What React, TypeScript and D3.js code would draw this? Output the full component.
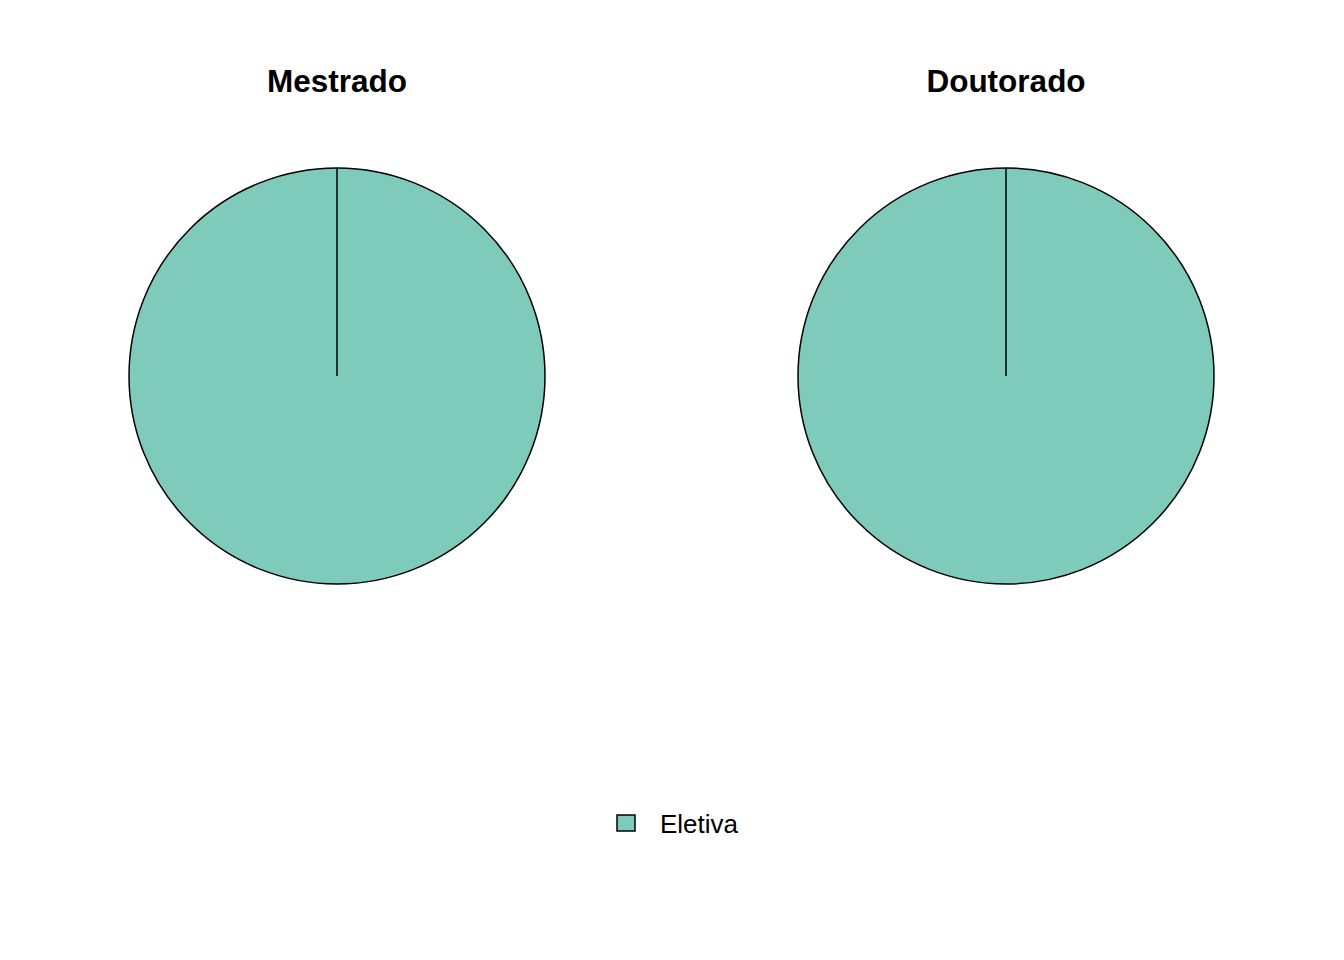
import React from "react";
import * as d3 from "d3";

const panels = ["Mestrado", "Doutorado"];
const categories = ["Eletiva"];
const valuesMestrado = [1];
const valuesDoutorado = [1];
const seriesValues = [valuesMestrado, valuesDoutorado];
const colors = ["#7FCBBB"];

export default function App() {
  const W = 1344, H = 960;
  const cx = d3.scaleOrdinal<string, number>().domain(panels).range([337, 1006]);
  const r = 208;
  const cy = 376;
  const pie = d3.pie<number>().sort(null).value((d) => d);
  const arc = d3.arc<d3.PieArcDatum<number>>().innerRadius(0).outerRadius(r);
  const color = d3.scaleOrdinal<string, string>().domain(categories).range(colors);
  return (
    <svg width={W} height={H} style={{ position: "absolute", left: 0, top: 0, background: "#fff" }}
      fontFamily="Liberation Sans, Arial, sans-serif">
      {panels.map((p, i) => {
        const arcs = pie(seriesValues[i]);
        return (
          <g key={p} transform={`translate(${cx(p)},${cy})`}>
            {arcs.map((a, j) => (
              <path key={j} d={arc(a) || ""} fill={color(categories[j])} stroke="#000" strokeWidth={1.5} />
            ))}
            {arcs.map((a, j) => (
              <line key={"l" + j} x1={0} y1={0}
                x2={r * Math.sin(a.startAngle)} y2={-r * Math.cos(a.startAngle)}
                stroke="#000" strokeWidth={1.5} />
            ))}
            <text x={0} y={-r - 76} textAnchor="middle" fontWeight="bold" fontSize={31.5}>{p}</text>
          </g>
        );
      })}
      <g>
        {categories.map((c) => (
          <g key={c}>
            <rect x={617} y={815} width={18} height={16} fill={color(c)} stroke="#000" strokeWidth={1.5} />
            <text x={660} y={833} fontSize={26}>{c}</text>
          </g>
        ))}
      </g>
    </svg>
  );
}
